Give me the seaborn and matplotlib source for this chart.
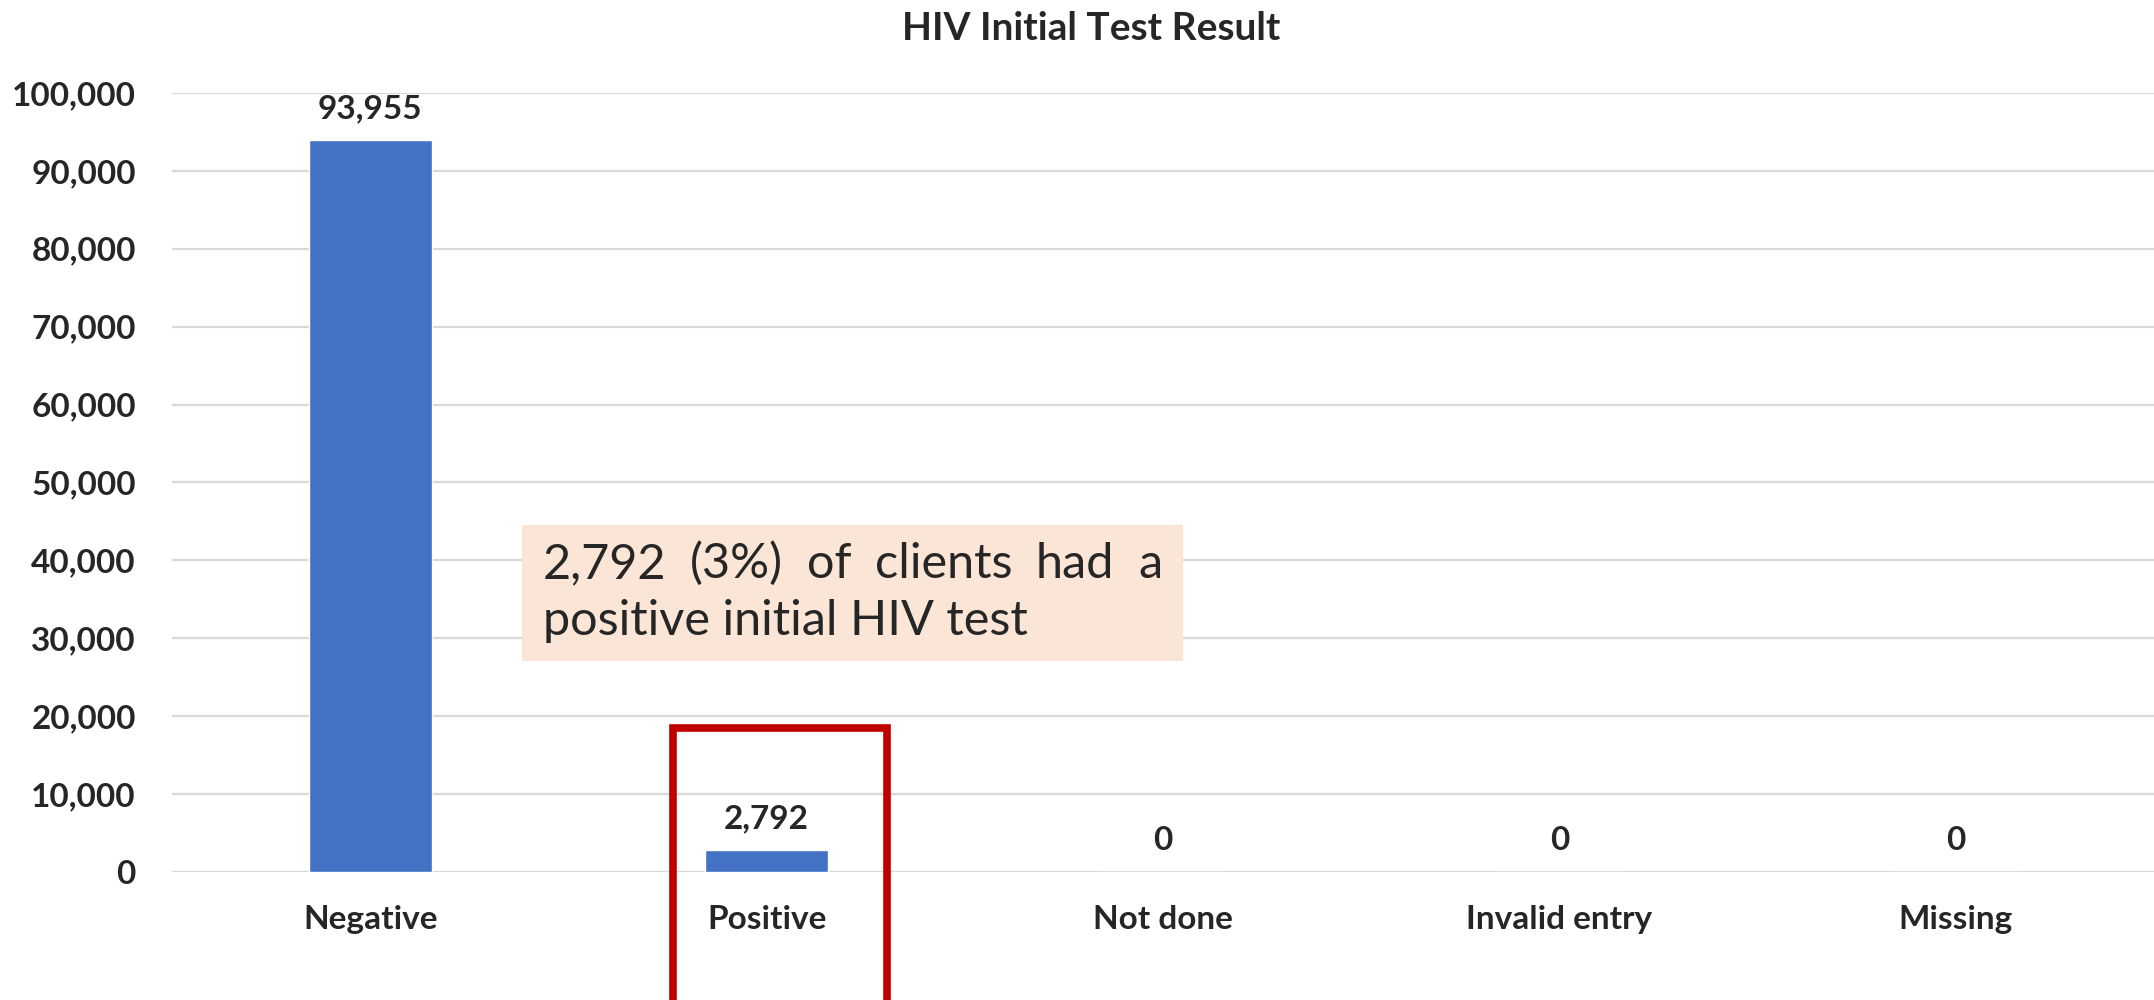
import numpy as np
import matplotlib
matplotlib.use("Agg")
from matplotlib import pyplot as plt
from matplotlib.patches import Rectangle
from matplotlib.ticker import FuncFormatter
import seaborn as sns

categories = ["Negative", "Positive", "Not done", "Invalid entry", "Missing"]
counts = [93955, 2792, 0, 0, 0]
y_ticks = list(range(0, 100001, 10000))
title = "HIV Initial Test Result"
note_line1 = ["2,792", "(3%)", "of", "clients", "had", "a"]
note_line2 = "positive initial HIV test"
highlight = "Positive"

sns.set_theme(style="white")
plt.rcParams["font.family"] = ["Lato", "DejaVu Sans"]

W, H = 2154, 1000
fig = plt.figure(figsize=(W / 100, H / 100), dpi=100)
ax = fig.add_axes([172 / W, 128 / H, (W - 172) / W, 779 / H])

sns.barplot(x=categories, y=counts, color="#4472C4", saturation=1,
            width=0.31, ax=ax)

ax.set_ylim(0, 100000)
ax.set_yticks(y_ticks)
ax.yaxis.set_major_formatter(FuncFormatter(lambda v, p: f"{int(v):,}"))
ax.yaxis.grid(True, color="#D9D9D9", lw=1.6)
ax.set_axisbelow(True)
for s in ax.spines.values():
    s.set_visible(False)
ax.tick_params(axis="both", length=0, labelsize=24)
ax.tick_params(axis="y", pad=26)
ax.tick_params(axis="x", pad=24)
for lbl in ax.get_xticklabels() + ax.get_yticklabels():
    lbl.set_fontweight("bold")
ax.set_xlabel("")
ax.set_ylabel("")

# data labels
for i, v in enumerate(counts):
    ax.annotate(f"{v:,}", (i, v), xytext=(0, 16), textcoords="offset points",
                ha="center", va="baseline", fontsize=24, fontweight="bold")

fig.text(1091 / W, 1 - 28 / H, title, ha="center", va="center",
         fontsize=28, fontweight="bold")

# red highlight box around the Positive category
hi = categories.index(highlight)
trans = matplotlib.transforms.blended_transform_factory(ax.transData, ax.transAxes)
ax.add_patch(Rectangle((hi - 0.236, -0.4), 0.54, 0.585, transform=trans,
                       fill=False, ec="#C00000", lw=5.5, clip_on=False))

# note box (justified first line)
fig.patches.append(Rectangle((522 / W, 1 - 661 / H), (1183 - 522) / W, 136 / H,
                             transform=fig.transFigure, fc="#FBE5D6", ec="none"))
x0, x1 = 543 / W, 1162 / W
y1, y2 = 1 - 578 / H, 1 - 635 / H
fig.canvas.draw()
r = fig.canvas.get_renderer()
words = [fig.text(0, y1, w, fontsize=35, va="baseline") for w in note_line1]
widths = [t.get_window_extent(r).width / W for t in words]
gap = (x1 - x0 - sum(widths)) / (len(words) - 1)
x = x0
for t, w in zip(words, widths):
    t.set_x(x)
    x += w + gap
fig.text(x0, y2, note_line2, fontsize=35, va="baseline")

fig.savefig("out.png", dpi=100)
